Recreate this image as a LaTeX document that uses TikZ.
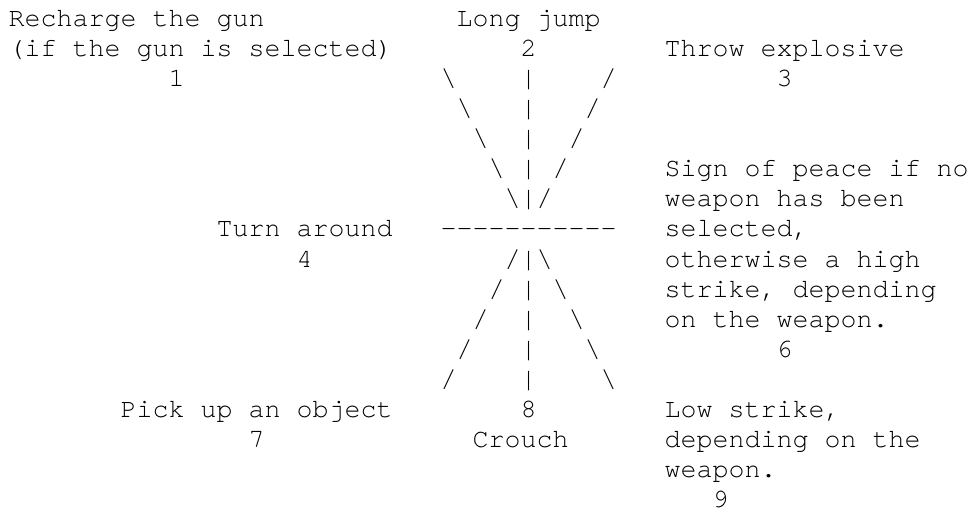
\documentclass[tikz,border=0pt]{standalone}
\usepackage{fontspec}
\setmonofont{TeX Gyre Cursor}
\begin{document}
\begin{tikzpicture}[x=0.75pt,y=-0.75pt,
  ascii/.style={anchor=base west, inner sep=0pt, outer sep=0pt,
    font=\ttfamily\fontsize{20pt}{22.65pt}\selectfont, text=black}]
\useasboundingbox (0,0) rectangle (970,509);
% one text cell on the character grid: column, row, text
\def\cell#1#2#3{\node[ascii] (c#2-#1) at ({8.7+16*#1},{26.3+30.1*(#2-1)}) {#3};}
\def\bs{\textbackslash}
% row 1-3: top labels
\cell{0}{1}{Recharge the gun}
\cell{28}{1}{Long jump}
\cell{0}{2}{(if the gun is selected)}
\cell{32}{2}{2}
\cell{41}{2}{Throw explosive}
\cell{10}{3}{1}
\cell{48}{3}{3}
% upper fan of the direction star
\cell{27}{3}{\bs}\cell{32}{3}{|}\cell{37}{3}{/}
\cell{28}{4}{\bs}\cell{32}{4}{|}\cell{36}{4}{/}
\cell{29}{5}{\bs}\cell{32}{5}{|}\cell{35}{5}{/}
\cell{30}{6}{\bs}\cell{32}{6}{|}\cell{34}{6}{/}
\cell{31}{7}{\bs|/}
% right-hand description
\cell{41}{6}{Sign of peace if no}
\cell{41}{7}{weapon has been}
\cell{41}{8}{selected,}
\cell{41}{9}{otherwise a high}
\cell{41}{10}{strike, depending}
\cell{41}{11}{on the weapon.}
\cell{48}{12}{6}
% horizontal bar and left label
\cell{13}{8}{Turn around}
\cell{27}{8}{-----------}
\cell{18}{9}{4}
% lower fan
\cell{31}{9}{/|\bs}
\cell{30}{10}{/}\cell{32}{10}{|}\cell{34}{10}{\bs}
\cell{29}{11}{/}\cell{32}{11}{|}\cell{35}{11}{\bs}
\cell{28}{12}{/}\cell{32}{12}{|}\cell{36}{12}{\bs}
\cell{27}{13}{/}\cell{32}{13}{|}\cell{37}{13}{\bs}
% bottom labels
\cell{7}{14}{Pick up an object}
\cell{32}{14}{8}
\cell{41}{14}{Low strike,}
\cell{15}{15}{7}
\cell{29}{15}{Crouch}
\cell{41}{15}{depending on the}
\cell{41}{16}{weapon.}
\cell{44}{17}{9}
\end{tikzpicture}
\end{document}
